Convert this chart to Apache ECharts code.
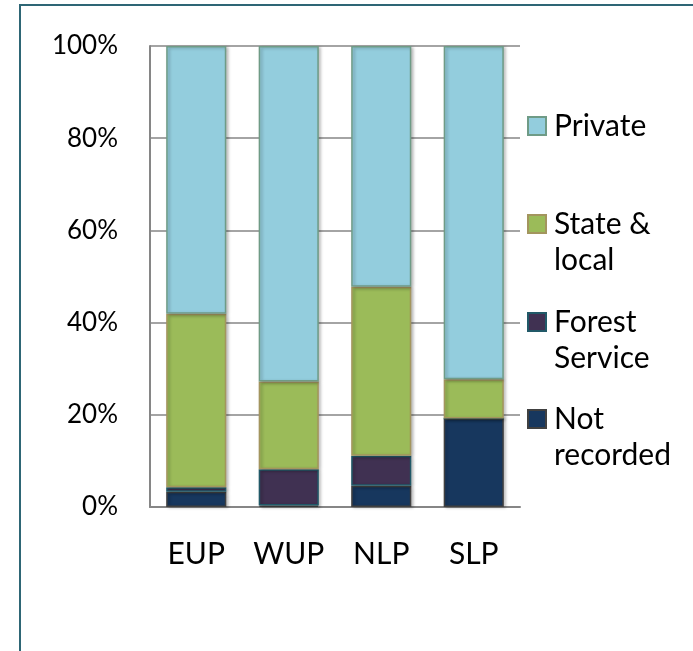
<!DOCTYPE html>
<html>
<head>
<meta charset="utf-8">
<script src="https://cdn.jsdelivr.net/npm/echarts@6/dist/echarts.min.js"></script>
<style>
  html, body { margin: 0; padding: 0; background: #fff; }
  #chart { width: 693px; height: 651px; }
</style>
</head>
<body>
<div id="chart"></div>
<script>
// 数据
const categories = ['EUP', 'WUP', 'NLP', 'SLP'];
const notRecorded = [3.3, 0.3, 4.6, 19.2];
const forestService = [1.0, 7.9, 6.5, 0];
const stateLocal = [37.6, 19.0, 36.7, 8.5];
const privateLand = [58.1, 72.8, 52.2, 72.3];
const yTicks = [0, 20, 40, 60, 80, 100];

const FONT = 'Lato';

// 系列样式
const seriesDefs = [
  { name: 'Not recorded', data: notRecorded, color: '#17375E', border: '#404040' },
  { name: 'Forest Service', data: forestService, color: '#403152', border: '#215968' },
  { name: 'State & local', data: stateLocal, color: '#9BBB59', border: '#A3955E' },
  { name: 'Private', data: privateLand, color: '#93CDDD', border: '#6F9B86' }
];

const series = seriesDefs.map(function (s) {
  return {
    name: s.name,
    type: 'bar',
    stack: 'total',
    barCategoryGap: '35%',
    data: s.data,
    itemStyle: {
      color: s.color,
      borderColor: s.border,
      borderWidth: 1.5,
      shadowColor: 'rgba(0,0,0,0.25)',
      shadowBlur: 3,
      shadowOffsetX: 2,
      shadowOffsetY: 1
    }
  };
});

// 图例：每项单独定位，两行文字时首行对齐图标
const legendLabels = {
  'Private': 'Private',
  'State & local': '\nState &\nlocal',
  'Forest Service': '\nForest\nService',
  'Not recorded': '\nNot\nrecorded'
};

function legendItem(name, top) {
  return {
    orient: 'vertical',
    left: 527,
    top: top,
    padding: 0,
    itemWidth: 18,
    itemHeight: 18,
    icon: 'rect',
    selectedMode: false,
    data: [name],
    formatter: function (n) {
      return legendLabels[n];
    },
    textStyle: {
      fontFamily: FONT,
      fontSize: 30,
      color: '#000',
      lineHeight: 36,
      padding: [0, 0, 0, 3]
    }
  };
}

const myChart = echarts.init(document.getElementById('chart'), null, { renderer: 'canvas' });

const option = {
  animation: false,
  backgroundColor: '#fff',
  graphic: [
    {
      type: 'rect',
      shape: { x: 20, y: 5, width: 700, height: 700 },
      style: { fill: 'none', stroke: '#2E6675', lineWidth: 2 },
      silent: true,
      z: -1
    }
  ],
  grid: {
    left: 150,
    right: 173,
    top: 46,
    bottom: 144,
    containLabel: false
  },
  legend: [
    legendItem('Private', 108),
    legendItem('State & local', 170),
    legendItem('Forest Service', 268),
    legendItem('Not recorded', 365)
  ],
  xAxis: {
    type: 'category',
    data: categories,
    axisLine: { show: true, lineStyle: { color: '#868686', width: 2 } },
    axisTick: { show: false },
    axisLabel: {
      fontFamily: FONT,
      fontSize: 30,
      color: '#000',
      margin: 32
    }
  },
  yAxis: {
    type: 'value',
    min: 0,
    max: 100,
    interval: 20,
    axisLine: { show: true, lineStyle: { color: '#868686', width: 2 } },
    axisTick: { show: false },
    splitLine: { show: true, lineStyle: { color: '#868686', width: 1.5 } },
    axisLabel: {
      fontFamily: FONT,
      fontSize: 26,
      color: '#000',
      margin: 32,
      customValues: yTicks,
      formatter: '{value}%'
    }
  },
  series: series
};

option && myChart.setOption(option);
window.addEventListener('resize', function () {
  myChart.resize();
});
</script>
</body>
</html>
